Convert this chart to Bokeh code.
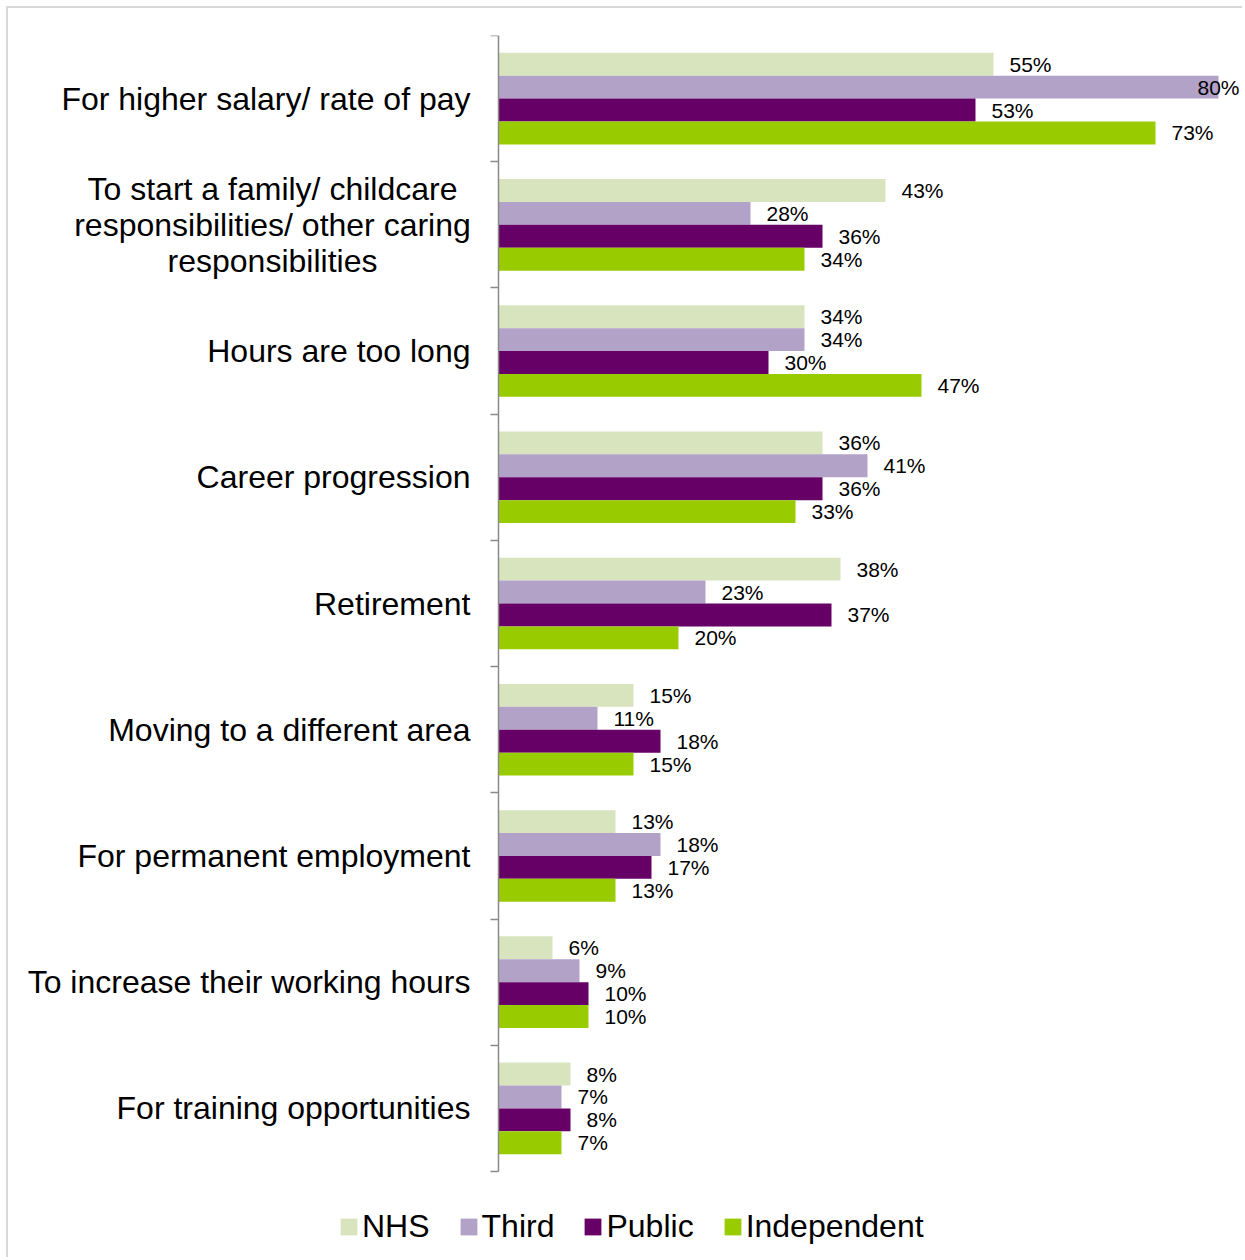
from bokeh.plotting import figure
from bokeh.models import (Range1d, FixedTicker, LinearAxis, LabelSet, Label, ColumnDataSource,
                          Legend, LegendItem)
from bokeh.core.properties import value
from bokeh.embed import file_html
from bokeh.resources import INLINE

categories = [
    "For higher salary/ rate of pay",
    "To start a family/ childcare\nresponsibilities/ other caring\nresponsibilities",
    "Hours are too long",
    "Career progression",
    "Retirement",
    "Moving to a different area",
    "For permanent employment",
    "To increase their working hours",
    "For training opportunities",
]
series_names = ["NHS", "Third", "Public", "Independent"]
nhs = [55, 43, 34, 36, 38, 15, 13, 6, 8]
third = [80, 28, 34, 41, 23, 11, 18, 9, 7]
public = [53, 36, 30, 36, 37, 18, 17, 10, 8]
independent = [73, 34, 47, 33, 20, 15, 13, 10, 7]
series_values = [nhs, third, public, independent]
colors = ["#D7E4BD", "#B3A2C7", "#660066", "#99CC00"]

FONT = "Liberation Sans"
W, H = 1236, 1251
AXIS_X = 490          # canvas px of the value axis
BT = 27               # canvas px of the top of the category band
ROW_PX = 1136 / 9     # height of one category band
PX_PER_PCT = 9.0
n = len(categories)
bar_h = 0.1815
MULTI_HALF_W = 198    # half width of the widest line of a wrapped label

x_start = -AXIS_X / PX_PER_PCT
x_end = (W - AXIS_X) / PX_PER_PCT
y_bottom = (H - BT) / ROW_PX

p = figure(width=W, height=H, output_backend="svg", toolbar_location=None,
           x_range=Range1d(x_start, x_end), y_range=Range1d(y_bottom, 0),
           x_axis_location=None, min_border_left=0, min_border_right=0,
           min_border_top=BT, min_border_bottom=0)
p.styles = {"margin-left": "6px", "margin-top": "6px",
            "border-left": "2px solid #d9d9d9", "border-top": "2px solid #d9d9d9"}
p.outline_line_color = None
p.xgrid.visible = False
p.ygrid.visible = False
p.background_fill_color = "white"
p.border_fill_color = "white"

# axis with tick marks at category boundaries
ax = p.yaxis[0]
ax.fixed_location = 0
ax.bounds = (0, n)
ax.ticker = FixedTicker(ticks=list(range(n + 1)))
ax.major_label_overrides = {i: "" for i in range(n + 1)}
ax.major_label_standoff = 0
ax.major_tick_out = 8
ax.major_tick_in = 0
ax.minor_tick_out = 0
ax.minor_tick_in = 0
ax.axis_line_color = "#8a8a8a"
ax.major_tick_line_color = "#8a8a8a"
ax.axis_line_width = 1.5
ax.major_tick_line_width = 1.5

# axis carrying the category names at category centres
centres = [i + 0.5 for i in range(n)]
overrides = {c: ("" if "\n" in cat else cat) for c, cat in zip(centres, categories)}
ax2 = LinearAxis(ticker=FixedTicker(ticks=centres), fixed_location=0, bounds=(0, n),
                 major_label_overrides=overrides,
                 axis_line_color=None, major_tick_line_color=None,
                 major_tick_out=0, major_tick_in=0, minor_tick_out=0, minor_tick_in=0,
                 major_label_standoff=28,
                 major_label_text_font=FONT, major_label_text_font_size="32px",
                 major_label_text_color="black")
p.add_layout(ax2, "left")

# wrapped category names, lines centred as in the original
for c, cat in zip(centres, categories):
    if "\n" in cat:
        p.add_layout(Label(x=0, y=c, x_offset=-(28 + MULTI_HALF_W), text=cat,
                           text_align="center", text_baseline="middle",
                           text_font=FONT, text_font_size="32px",
                           text_line_height=1.0, text_color="black"))

items = []
for j, (name, vals, col) in enumerate(zip(series_names, series_values, colors)):
    off = (j - 1.5) * bar_h
    ys = [c + off for c in centres]
    src = ColumnDataSource(dict(y=ys, right=vals))
    r = p.hbar(y="y", left=0, right="right", height=bar_h, source=src,
               fill_color=col, line_color=None)
    items.append(LegendItem(label=name, renderers=[r]))
    fits = [v + (16 + 44) / PX_PER_PCT <= x_end for v in vals]
    lab_in = ColumnDataSource(dict(x=[v for v, f in zip(vals, fits) if f],
                                   y=[yy for yy, f in zip(ys, fits) if f],
                                   text=[f"{v}%" for v, f in zip(vals, fits) if f]))
    p.add_layout(LabelSet(x="x", y="y", text="text", source=lab_in, x_offset=16,
                          text_align="left", text_baseline="middle",
                          text_font=value(FONT), text_font_size="21px", text_color="black"))
    lab_out = ColumnDataSource(dict(x=[x_end for v, f in zip(vals, fits) if not f],
                                    y=[yy for yy, f in zip(ys, fits) if not f],
                                    text=[f"{v}%" for v, f in zip(vals, fits) if not f]))
    p.add_layout(LabelSet(x="x", y="y", text="text", source=lab_out, x_offset=-5,
                          text_align="right", text_baseline="middle",
                          text_font=value(FONT), text_font_size="21px", text_color="black"))

legend = Legend(items=items, orientation="horizontal", location=(330, 14),
                glyph_width=21, glyph_height=21, label_standoff=3, spacing=28,
                padding=0, margin=0, border_line_color=None, background_fill_alpha=0,
                label_text_font=FONT, label_text_font_size="32px", label_text_color="black",
                label_height=20)
p.add_layout(legend, "center")

open("out.html", "w").write(file_html(p, INLINE))
